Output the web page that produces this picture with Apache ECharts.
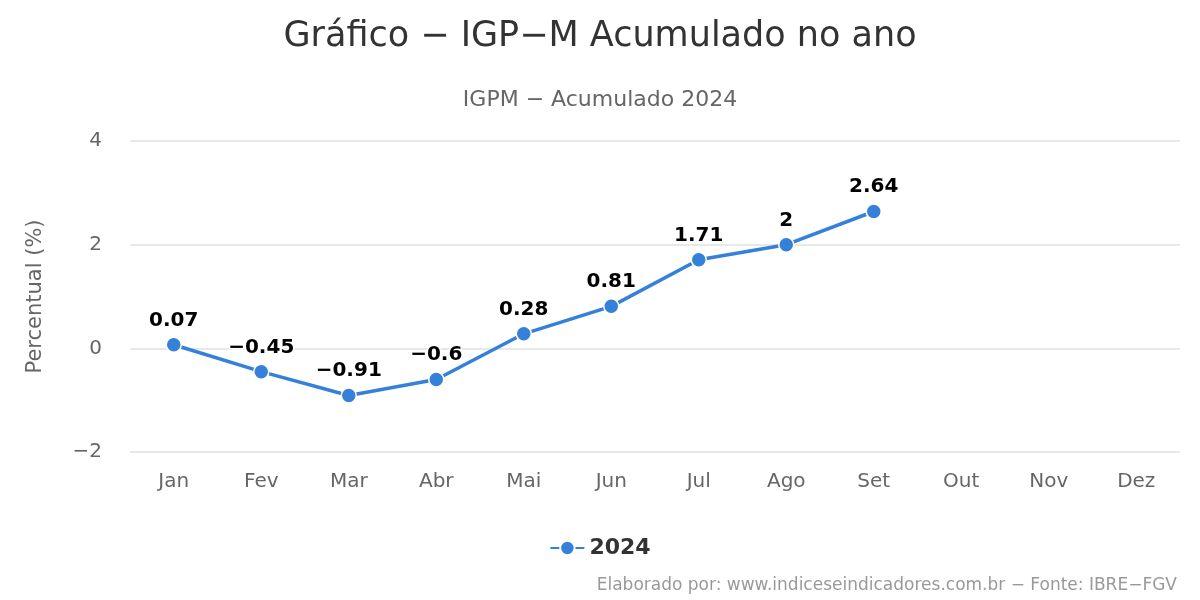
<!DOCTYPE html>
<html><head><meta charset="utf-8">
<script src="https://cdn.jsdelivr.net/npm/echarts@6/dist/echarts.min.js"></script>
<style>html,body{margin:0;background:#fff}#c{width:1200px;height:600px}</style>
</head><body><div id="c"></div>
<script>
const months = ['Jan', 'Fev', 'Mar', 'Abr', 'Mai', 'Jun', 'Jul', 'Ago', 'Set', 'Out', 'Nov', 'Dez'];
const values2024 = [0.07, -0.45, -0.91, -0.6, 0.28, 0.81, 1.71, 2, 2.64, null, null, null];

const font = 'DejaVu Sans';
const minus = v => String(v).replace('-', '\u2212');
const chart = echarts.init(document.getElementById('c'));
chart.setOption({
  textStyle: { fontFamily: font },
  title: [
    { text: 'Gráfico \u2212 IGP\u2212M Acumulado no ano', left: 'center', top: 14,
      textStyle: { fontFamily: font, fontSize: 35, fontWeight: 'normal', color: '#333' } },
    { text: 'IGPM \u2212 Acumulado 2024', left: 'center', top: 84,
      textStyle: { fontFamily: font, fontSize: 22, fontWeight: 'normal', color: '#666' } },
    { text: 'Elaborado por: www.indiceseindicadores.com.br \u2212 Fonte: IBRE\u2212FGV', right: 18, top: 572,
      textStyle: { fontFamily: font, fontSize: 17, fontWeight: 'normal', color: '#999' } }
  ],
  grid: { left: 130, right: 20, top: 141, bottom: 148 },
  xAxis: {
    type: 'category', data: months, boundaryGap: true,
    axisLine: { show: false }, axisTick: { show: false },
    axisLabel: { fontFamily: font, fontSize: 20, color: '#666', margin: 20 }
  },
  yAxis: {
    type: 'value', min: -2, max: 4, interval: 2,
    name: 'Percentual (%)', nameLocation: 'middle', nameGap: 84, nameRotate: 90,
    nameTextStyle: { fontFamily: font, fontSize: 21, color: '#666' },
    axisLabel: { fontFamily: font, fontSize: 20, color: '#666', margin: 28, formatter: minus },
    splitLine: { lineStyle: { color: '#e0e0e0', width: 1.5 } }
  },
  legend: {
    bottom: 36, left: 'center', itemWidth: 34, itemHeight: 18,
    textStyle: { fontFamily: font, fontSize: 22, fontWeight: 'bold', color: '#333' },
    data: ['2024']
  },
  series: [{
    name: '2024', type: 'line', data: values2024,
    symbol: 'circle', symbolSize: 15,
    lineStyle: { color: '#3580d8', width: 3.5 },
    itemStyle: { color: '#3580d8', borderColor: '#fff', borderWidth: 1.5 },
    label: { show: true, position: 'top', distance: 6, fontFamily: font, fontSize: 20,
      fontWeight: 'bold', color: '#000', textBorderColor: '#fff', textBorderWidth: 3,
      formatter: p => minus(p.value) }
  }]
});
</script></body></html>
